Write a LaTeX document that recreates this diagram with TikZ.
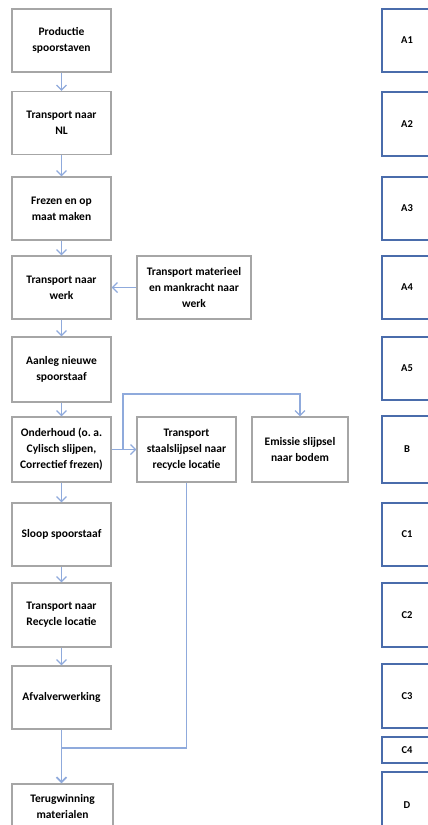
\documentclass[tikz,border=0pt]{standalone}
\usepackage{fontspec}
\setmainfont{Carlito}
\usetikzlibrary{arrows.meta}
\usepackage{xcolor}
\definecolor{pijlblauw}{HTML}{8FAADC}
\definecolor{randgrijs}{HTML}{A6A6A6}
\definecolor{fasenblauw}{HTML}{4A6CAB}

\begin{document}
\begin{tikzpicture}[x=1pt, y=-1pt,
        stap/.style={draw=randgrijs, line width=1.3pt, minimum width=99pt, minimum height=63pt,
                inner sep=1pt, align=center, font=\fontsize{11.5}{16}\selectfont\bfseries},
        fase/.style={draw=fasenblauw, line width=1.3pt, minimum width=50pt, minimum height=63pt,
                inner sep=1pt, font=\fontsize{10.5}{12}\selectfont\bfseries},
        pijl/.style={draw=pijlblauw, line width=1.2pt, -{Straight Barb[length=5pt, width=10pt]}},
        lijn/.style={draw=pijlblauw, line width=1.2pt}]
        \useasboundingbox (0,0) rectangle (428,825);

        % levenscyclus
        \node[stap] (prod) at (61.5,40.5) {Productie\\spoorstaven};
        \node[stap] (nl) at (61.5,123) {Transport naar\\NL};
        \node[stap] (frez) at (61.5,208.5) {Frezen en op\\maat maken};
        \node[stap] (werk) at (61.5,287.5) {Transport naar\\werk};
        \node[stap, minimum width=114pt] (mater) at (194,287.5) {Transport materieel\\en mankracht naar\\werk};
        \node[stap, minimum height=65pt] (aanleg) at (61.5,369.5) {Aanleg nieuwe\\spoorstaaf};
        \node[stap, minimum height=65pt] (onder) at (61.5,449.5) {Onderhoud (o.\ a.\\Cylisch slijpen,\\Correctief frezen)};
        \node[stap, minimum height=65pt] (staal) at (186.5,449.5) {Transport\\staalslijpsel naar\\recycle locatie};
        \node[stap, minimum width=96pt, minimum height=65pt] (emis) at (300,449.5) {Emissie slijpsel\\naar bodem};
        \node[stap] (sloop) at (61.5,534.5) {Sloop spoorstaaf};
        \node[stap, minimum height=64pt] (recy) at (61.5,615) {Transport naar\\Recycle locatie};
        \node[stap] (afval) at (61.5,697.5) {Afvalverwerking};
        \node[stap, minimum width=101pt, minimum height=45pt] (terug) at (62.5,806.5) {Terugwinning\\materialen};

        % fasen
        \node[fase] (a1) at (407,40.5) {A1};
        \node[fase, minimum height=64pt] (a2) at (407,124) {A2};
        \node[fase] (a3) at (407,208.5) {A3};
        \node[fase] (a4) at (407,287.5) {A4};
        \node[fase] (a5) at (407,368.5) {A5};
        \node[fase, minimum height=67pt] (b) at (407,449.5) {B};
        \node[fase] (c1) at (407,534.5) {C1};
        \node[fase, minimum height=64pt] (c2) at (407,615) {C2};
        \node[fase, minimum height=64pt] (c3) at (407,696) {C3};
        \node[fase, minimum height=26pt] (c4) at (407,750) {C4};
        \node[fase, minimum height=66pt] (d) at (407,805) {D};

        % pijlen
        \draw[pijl] (prod) -- (nl);
        \draw[pijl] (nl) -- (frez);
        \draw[pijl] (frez) -- (werk);
        \draw[pijl] (mater) -- (werk);
        \draw[pijl] (werk) -- (aanleg);
        \draw[pijl] (aanleg) -- (onder);
        \draw[pijl] (onder) -- (staal);
        \draw[pijl] (onder) -- (sloop);
        \draw[pijl] (sloop) -- (recy);
        \draw[pijl] (recy) -- (afval);

        % slijpsel
        \coordinate (split) at (123,449.5);
        \coordinate (knik) at (123,394);
        \coordinate (samen) at (61.5,748);
        \draw[pijl] (split) -- (knik) -| (emis.north);
        \draw[lijn] (staal.south) |- (samen);
        \draw[lijn] (afval.south) -- (samen);
        \draw[pijl, line width=1.7pt] (samen) -- (samen |- terug.north);
\end{tikzpicture}
\end{document}
